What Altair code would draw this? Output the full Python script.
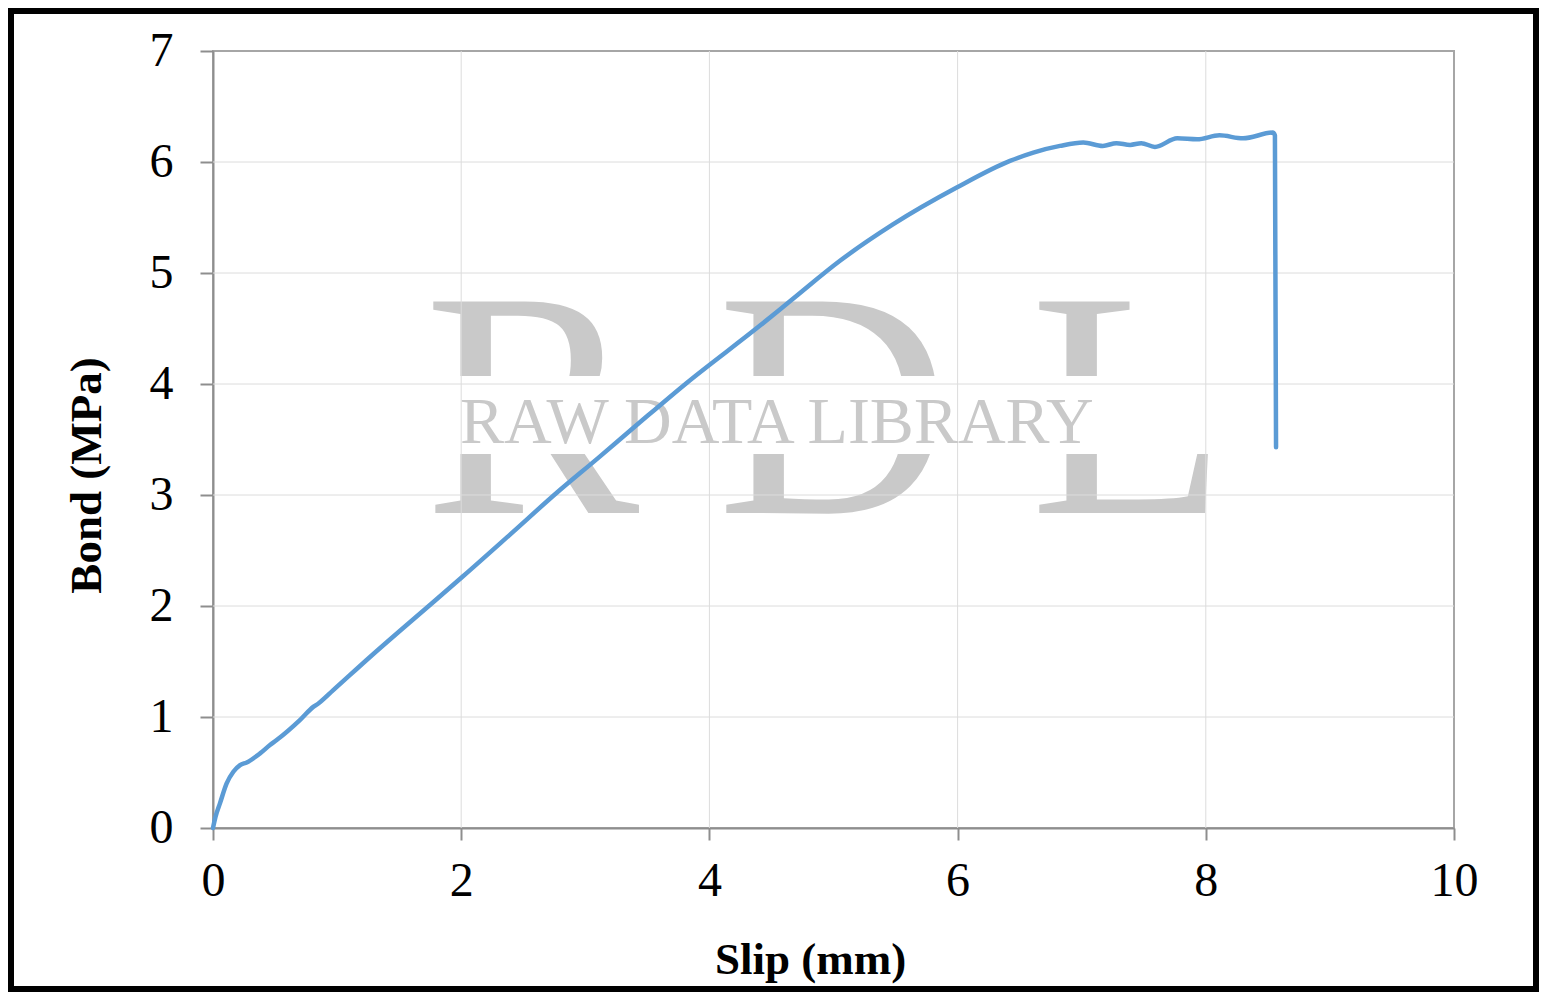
import altair as alt
import pandas as pd

# ---- data ----
slip = [0, 0.02, 0.056, 0.11, 0.164, 0.218, 0.272, 0.379, 0.459, 0.513, 0.70, 0.808, 0.849,
        0.969, 1.265, 1.79, 2.017, 2.4, 2.77, 3.1, 3.414, 3.817, 4.408, 4.676, 5.052,
        5.482, 5.993, 6.422, 6.61, 6.825, 7.013, 7.17, 7.28, 7.39, 7.48, 7.59, 7.77, 7.93,
        8.11, 8.30, 8.539, 8.557, 8.566]
bond = [0, 0.1, 0.222, 0.402, 0.507, 0.567, 0.591, 0.672, 0.747, 0.792, 0.972, 1.091, 1.122,
        1.242, 1.541, 2.05, 2.27, 2.65, 3.02, 3.33, 3.63, 4.01, 4.526, 4.77, 5.11,
        5.44, 5.77, 6.01, 6.085, 6.145, 6.175, 6.145, 6.17, 6.154, 6.17, 6.136, 6.213, 6.204,
        6.24, 6.213, 6.265, 6.24, 3.43]
x_ticks = [0, 2, 4, 6, 8, 10]
y_ticks = [0, 1, 2, 3, 4, 5, 6, 7]
x_title = "Slip (mm)"
y_title = "Bond (MPa)"
wm_big = ["R", "D", "L"]
wm_small = "RAW DATA LIBRARY"

W, H = 1241, 777
PAD = {"left": 205, "top": 43, "right": 85, "bottom": 164}
FONT = "Liberation Serif"
WM = "#c9c9c9"
AX = "#8e8e8e"
FW = 6  # frame stroke width

df = pd.DataFrame({"slip": slip, "bond": bond})
one = pd.DataFrame({"a": [0]})
gx = pd.DataFrame({"slip": [t for t in x_ticks if 0 < t < max(x_ticks)]})
gy = pd.DataFrame({"bond": [t for t in y_ticks if 0 < t < max(y_ticks)]})

xs = alt.Scale(domain=[min(x_ticks), max(x_ticks)], nice=False)
ys = alt.Scale(domain=[min(y_ticks), max(y_ticks)], nice=False)

x_axis = alt.Axis(values=x_ticks, grid=False, format="d", labelFont=FONT,
                  labelFontSize=48, labelColor="black", labelPadding=17,
                  tickSize=12, tickColor=AX, tickWidth=2,
                  domainColor=AX, domainWidth=2,
                  titleFont=FONT, titleFontSize=45, titleFontWeight="bold",
                  titleColor="black", titleX=597, titleY=145,
                  titleBaseline="alphabetic", titleAnchor="middle",
                  labelFlush=False)
y_axis = alt.Axis(values=y_ticks, grid=False, format="d", labelFont=FONT,
                  labelFontSize=48, labelColor="black", labelPadding=27,
                  tickSize=13, tickColor=AX, tickWidth=2,
                  domainColor=AX, domainWidth=2,
                  titleFont=FONT, titleFontSize=45, titleFontWeight="bold",
                  titleColor="black", titleX=-113, titleY=424, titleAngle=270,
                  titleBaseline="alphabetic", labelFlush=False)

X = alt.X("slip:Q", scale=xs, title=x_title, axis=x_axis)
Y = alt.Y("bond:Q", scale=ys, title=y_title, axis=y_axis)

# watermark big letters
big_x = [211, 504, 817]
big_layers = [
    alt.Chart(one).mark_text(text=ch, font=FONT, fontSize=323, color=WM, align="left",
                             baseline="alphabetic")
    .encode(x=alt.value(px), y=alt.value(462))
    for ch, px in zip(wm_big, big_x)
]
band = alt.Chart(one).mark_rect(color="white").encode(
    x=alt.value(205), x2=alt.value(1015), y=alt.value(325), y2=alt.value(403))

grid_x = alt.Chart(gx).mark_rule(color="#dcdcdc", strokeWidth=1).encode(x=X)
grid_y = alt.Chart(gy).mark_rule(color="#dcdcdc", strokeWidth=1).encode(y=Y)

small = alt.Chart(one).mark_text(text=wm_small, font=FONT, fontSize=66, color=WM,
                                 align="left", baseline="alphabetic").encode(
    x=alt.value(247), y=alt.value(392))

line = alt.Chart(df).mark_line(color="#5b9bd5", strokeWidth=4.5, interpolate="monotone",
                               strokeCap="round", strokeJoin="round").encode(x=X, y=Y)

frame = alt.Chart(one).mark_rect(filled=False, stroke="black", strokeWidth=FW).encode(
    x=alt.value(-PAD["left"] + FW / 2), x2=alt.value(W + PAD["right"] - FW / 2),
    y=alt.value(-PAD["top"] + FW / 2), y2=alt.value(H + PAD["bottom"] - FW / 2))

chart = alt.layer(*big_layers, band, grid_x, grid_y, small, line, frame).properties(
    width=W, height=H, padding=PAD, autosize=alt.AutoSizeParams(type="none"),
    background="white",
).configure_view(stroke="#a6a6a6", strokeWidth=2)

chart.save("out.html", embed_options={"renderer": "svg", "actions": False})
